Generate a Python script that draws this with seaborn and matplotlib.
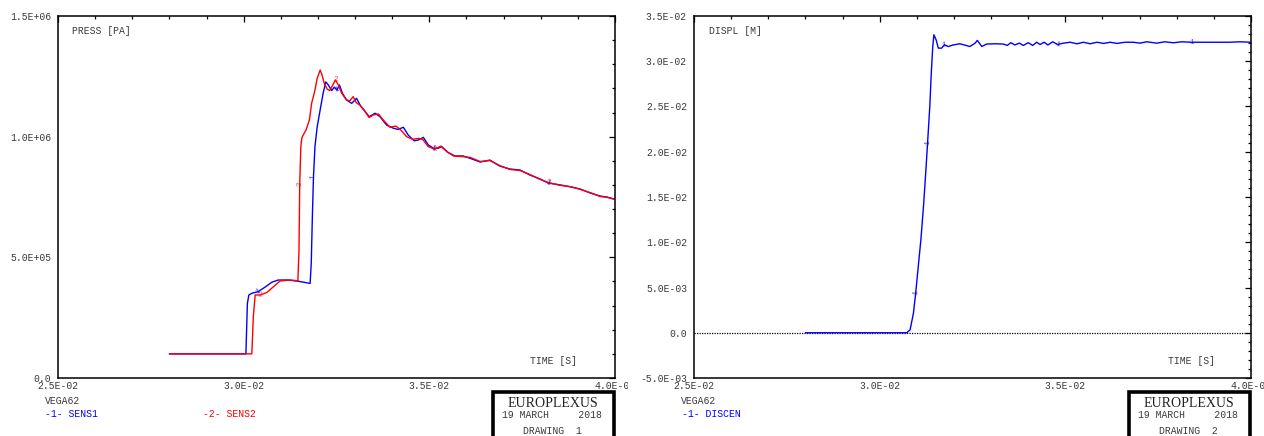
import numpy as np
import pandas as pd
import seaborn as sns
import matplotlib
matplotlib.use("Agg")
import matplotlib.pyplot as plt
from matplotlib.patches import Rectangle
from matplotlib.ticker import FixedLocator, MultipleLocator, FuncFormatter
from matplotlib.transforms import Bbox

# ---- pressure gauges (time [s], pressure [Pa]) ----
sens1_time = [0.02800, 0.03006, 0.03010, 0.03014, 0.03022, 0.03039, 0.03057, 0.03076,
              0.03093, 0.03120, 0.03147, 0.03179, 0.03182, 0.03185, 0.03188, 0.03192,
              0.03198, 0.03206, 0.03214, 0.03221, 0.03228, 0.03237, 0.03244, 0.03251,
              0.03258, 0.03266, 0.03277, 0.03291, 0.03304, 0.03315, 0.03327, 0.03338,
              0.03354, 0.03367, 0.03385, 0.03403, 0.03416, 0.03430, 0.03443, 0.03459,
              0.03470, 0.03484, 0.03497, 0.03511, 0.03524, 0.03533, 0.03551, 0.03569,
              0.03591, 0.03610, 0.03637, 0.03663, 0.03690, 0.03717, 0.03744, 0.03771,
              0.03798, 0.03820, 0.03853, 0.03880, 0.03906, 0.03933, 0.03960, 0.03978,
              0.03997]
sens1_press = [1.00e5, 1.00e5, 3.09e5, 3.44e5, 3.51e5, 3.58e5, 3.76e5, 3.97e5,
               4.06e5, 4.06e5, 4.01e5, 3.92e5, 4.75e5, 6.68e5, 8.34e5, 9.59e5,
               10.41e5, 11.11e5, 11.80e5, 12.27e5, 12.14e5, 11.91e5, 12.05e5, 11.93e5,
               12.14e5, 11.80e5, 11.52e5, 11.38e5, 11.59e5, 11.27e5, 11.04e5, 10.83e5,
               10.97e5, 10.83e5, 10.48e5, 10.35e5, 10.30e5, 10.39e5, 10.07e5, 9.83e5,
               9.86e5, 9.97e5, 9.66e5, 9.52e5, 9.52e5, 9.59e5, 9.34e5, 9.20e5,
               9.20e5, 9.10e5, 8.95e5, 9.03e5, 8.78e5, 8.66e5, 8.62e5, 8.41e5,
               8.25e5, 8.08e5, 8.00e5, 7.92e5, 7.83e5, 7.67e5, 7.54e5, 7.50e5,
               7.42e5]

sens2_time = [0.02800, 0.03022, 0.03026, 0.03031, 0.03044, 0.03062, 0.03080, 0.03098,
              0.03125, 0.03146, 0.03149, 0.03151, 0.03154, 0.03157, 0.03168, 0.03177,
              0.03183, 0.03192, 0.03198, 0.03206, 0.03211, 0.03217, 0.03225, 0.03232,
              0.03240, 0.03247, 0.03255, 0.03264, 0.03277, 0.03286, 0.03295, 0.03303,
              0.03313, 0.03324, 0.03338, 0.03349, 0.03363, 0.03376, 0.03394, 0.03410,
              0.03423, 0.03439, 0.03455, 0.03470, 0.03482, 0.03497, 0.03515, 0.03531,
              0.03547, 0.03565, 0.03591, 0.03610, 0.03637, 0.03663, 0.03690, 0.03717,
              0.03744, 0.03771, 0.03798, 0.03820, 0.03853, 0.03880, 0.03906, 0.03933,
              0.03960, 0.03978, 0.03997]
sens2_press = [1.00e5, 1.00e5, 2.54e5, 3.44e5, 3.44e5, 3.54e5, 3.78e5, 4.02e5,
               4.06e5, 4.03e5, 5.30e5, 8.07e5, 9.59e5, 9.97e5, 10.28e5, 10.69e5,
               11.38e5, 11.93e5, 12.42e5, 12.76e5, 12.56e5, 12.21e5, 11.97e5, 11.91e5,
               12.14e5, 12.35e5, 12.14e5, 11.80e5, 11.52e5, 11.49e5, 11.66e5, 11.41e5,
               11.31e5, 11.11e5, 10.79e5, 10.90e5, 10.94e5, 10.69e5, 10.39e5, 10.44e5,
               10.28e5, 10.00e5, 9.89e5, 9.93e5, 9.89e5, 9.59e5, 9.48e5, 9.61e5,
               9.38e5, 9.20e5, 9.17e5, 9.14e5, 8.97e5, 9.01e5, 8.80e5, 8.64e5,
               8.60e5, 8.43e5, 8.23e5, 8.10e5, 7.98e5, 7.93e5, 7.82e5, 7.68e5,
               7.52e5, 7.49e5, 7.41e5]

# ---- central displacement (time [s], displacement [m]) ----
discen_time = [0.02800, 0.03073, 0.03082, 0.03091, 0.03097, 0.03104, 0.03111, 0.03118,
               0.03124, 0.03129, 0.03135, 0.03139, 0.03143, 0.03146, 0.03152, 0.03158,
               0.03167, 0.03174, 0.03185, 0.03198, 0.03216, 0.03243, 0.03257, 0.03263,
               0.03275, 0.03288, 0.03311, 0.03333, 0.03344, 0.03353, 0.03364, 0.03376,
               0.03387, 0.03400, 0.03412, 0.03423, 0.03432, 0.03443, 0.03453, 0.03466,
               0.03479, 0.03495, 0.03513, 0.03531, 0.03549, 0.03567, 0.03585, 0.03603,
               0.03621, 0.03639, 0.03661, 0.03683, 0.03701, 0.03719, 0.03746, 0.03768,
               0.03791, 0.03813, 0.03840, 0.03863, 0.03890, 0.03917, 0.03943, 0.03970,
               0.04000]
discen_displ = [0.0, 0.0, 0.33e-3, 2.18e-3, 4.39e-3, 7.33e-3, 10.28e-3, 13.96e-3,
                17.65e-3, 20.96e-3, 25.00e-3, 28.70e-3, 31.63e-3, 32.93e-3, 32.37e-3, 31.45e-3,
                31.45e-3, 31.82e-3, 31.63e-3, 31.80e-3, 31.93e-3, 31.63e-3, 32.00e-3, 32.30e-3,
                31.63e-3, 31.90e-3, 31.93e-3, 31.90e-3, 31.75e-3, 32.05e-3, 31.80e-3, 32.00e-3,
                31.75e-3, 32.05e-3, 31.75e-3, 32.10e-3, 31.85e-3, 32.10e-3, 31.80e-3, 32.15e-3,
                31.85e-3, 32.00e-3, 32.10e-3, 31.93e-3, 32.10e-3, 31.93e-3, 32.10e-3, 31.97e-3,
                32.10e-3, 31.97e-3, 32.10e-3, 32.10e-3, 32.00e-3, 32.15e-3, 32.00e-3, 32.15e-3,
                32.04e-3, 32.15e-3, 32.10e-3, 32.10e-3, 32.10e-3, 32.10e-3, 32.10e-3, 32.15e-3,
                32.10e-3]

press_ticks = [0.0, 5.0e5, 1.0e6, 1.5e6]
displ_ticks = [-5.0e-3, 0.0, 5.0e-3, 1.0e-2, 1.5e-2, 2.0e-2, 2.5e-2, 3.0e-2, 3.5e-2]
time_ticks = [0.025, 0.030, 0.035, 0.040]

BLUE = "#0000ff"
RED = "#ff0000"
GREY = "#3a3a3a"
MONO = "Liberation Mono"

sns.set_style("white")
plt.rcParams["font.family"] = [MONO, "DejaVu Sans"]

W, H = 1264, 436
fig = plt.figure(figsize=(W / 100, H / 100), dpi=100)


def pxy(x, y):
    """Pixel position measured from the top-left corner -> figure fraction."""
    return x / W, (H - y) / H


def px_axes(x0, x1, y_top, y_bot):
    return fig.add_axes([x0 / W, (H - y_bot) / H, (x1 - x0) / W, (y_bot - y_top) / H])


def sci(v, _pos=None):
    if abs(v) < 1e-12:
        return "0.0"
    return f"{v:.1E}"


def style_axes(ax, ymaj, yminor, ylim):
    ax.set_xlim(0.025, 0.040)
    ax.set_ylim(*ylim)
    ax.xaxis.set_major_locator(FixedLocator(time_ticks))
    ax.xaxis.set_minor_locator(MultipleLocator(0.001))
    ax.yaxis.set_major_locator(FixedLocator(ymaj))
    ax.yaxis.set_minor_locator(MultipleLocator(yminor))
    ax.xaxis.set_major_formatter(FuncFormatter(sci))
    ax.yaxis.set_major_formatter(FuncFormatter(sci))
    ax.tick_params(which="both", direction="in", top=True, right=True,
                   color="black", width=0.9, labelsize=7, labelcolor=GREY)
    ax.tick_params(which="major", length=4)
    ax.tick_params(which="minor", length=2.2)
    ax.tick_params(axis="x", pad=2.2)
    ax.tick_params(axis="y", pad=5)
    for s in ax.spines.values():
        s.set_visible(True)
        s.set_color("black")
        s.set_linewidth(1.1)
    ax.set_xlabel("")
    ax.set_ylabel("")
    ax.grid(False)


def curve_label(ax, xs, ys, idx, txt, color):
    """Small series number drawn along the curve at the given sample."""
    tr = ax.transData
    a = tr.transform((xs[max(idx - 1, 0)], ys[max(idx - 1, 0)]))
    b = tr.transform((xs[min(idx + 1, len(xs) - 1)], ys[min(idx + 1, len(xs) - 1)]))
    ang = np.degrees(np.arctan2(b[1] - a[1], b[0] - a[0]))
    if ang > 90:
        ang -= 180
    elif ang < -90:
        ang += 180
    ax.text(xs[idx], ys[idx], txt, color=color, fontsize=5.5, alpha=0.7,
            rotation=ang, rotation_mode="anchor", ha="center", va="center")


# ---------------- pressure panel ----------------
ax1 = px_axes(58, 615, 16, 378)
df_p = pd.concat([
    pd.DataFrame({"time": sens1_time, "press": sens1_press, "gauge": "SENS1"}),
    pd.DataFrame({"time": sens2_time, "press": sens2_press, "gauge": "SENS2"}),
])
sns.lineplot(data=df_p, x="time", y="press", hue="gauge",
             palette={"SENS1": BLUE, "SENS2": RED}, estimator=None, sort=False,
             linewidth=1.0, legend=False, ax=ax1)
style_axes(ax1, press_ticks, 1.0e5, (0.0, 1.5e6))
fig.text(*pxy(72, 31), "PRESS [PA]", fontsize=7, color=GREY, ha="left", va="center")
fig.text(*pxy(530, 361), "TIME [S]", fontsize=7, color=GREY, ha="left", va="center")

# series numbers along the pressure curves
for i in (5, 14, 23, 43, 57):
    curve_label(ax1, sens1_time, sens1_press, i, "1", BLUE)
for i in (4, 11, 25, 46, 59):
    curve_label(ax1, sens2_time, sens2_press, i, "2", RED)

# ---------------- displacement panel ----------------
ax2 = px_axes(694, 1251, 16, 378)
ax2.axhline(0.0, color="black", linewidth=0.9, linestyle=(0, (1, 1)), zorder=1)
df_d = pd.DataFrame({"time": discen_time, "displ": discen_displ})
sns.lineplot(data=df_d, x="time", y="displ", color=BLUE, estimator=None, sort=False,
             linewidth=1.0, legend=False, ax=ax2, zorder=2)
style_axes(ax2, displ_ticks, 1.0e-3, (-5.0e-3, 3.5e-2))
fig.text(*pxy(709, 31), "DISPL [M]", fontsize=7, color=GREY, ha="left", va="center")
fig.text(*pxy(1168, 361), "TIME [S]", fontsize=7, color=GREY, ha="left", va="center")
for i in (4, 9, 17, 40, 58):
    curve_label(ax2, discen_time, discen_displ, i, "1", BLUE)

# last time label of the left panel is cut at the panel boundary
fig.canvas.draw()
clip = Bbox.from_extents(0, 0, 628, H)
for lab in ax1.get_xticklabels():
    lab.set_clip_box(clip)
    lab.set_clip_on(True)

# ---------------- captions and title blocks ----------------
for off, series, drawing in ((0, [("-1- SENS1", BLUE, 45), ("-2- SENS2", RED, 203)], "1"),
                             (636, [("-1- DISCEN", BLUE, 46)], "2")):
    fig.text(*pxy(45 + off, 401), "VEGA62", fontsize=7, color=GREY, ha="left", va="center")
    for txt, col, x in series:
        fig.text(*pxy(x + off, 414), txt, fontsize=7, color=col, ha="left", va="center")
    bx0, bx1, by = 492.5 + off, 613.5 + off, 391.5
    fig.add_artist(Rectangle((bx0 / W, -0.05), (bx1 - bx0) / W, (H - by) / H + 0.05,
                             transform=fig.transFigure, fill=False,
                             edgecolor="black", linewidth=2.6, clip_on=False))
    fig.text(*pxy(553 + off, 403), "EUROPLEXUS", fontsize=10, color="#222222",
             family=["Liberation Serif", "DejaVu Serif"], ha="center", va="center")
    fig.text(*pxy(502 + off, 415), "19 MARCH     2018", fontsize=7, color=GREY,
             ha="left", va="center")
    fig.text(*pxy(523 + off, 431), "DRAWING  " + drawing, fontsize=7, color=GREY,
             ha="left", va="center")

fig.savefig("out.png", dpi=100, facecolor="white")
